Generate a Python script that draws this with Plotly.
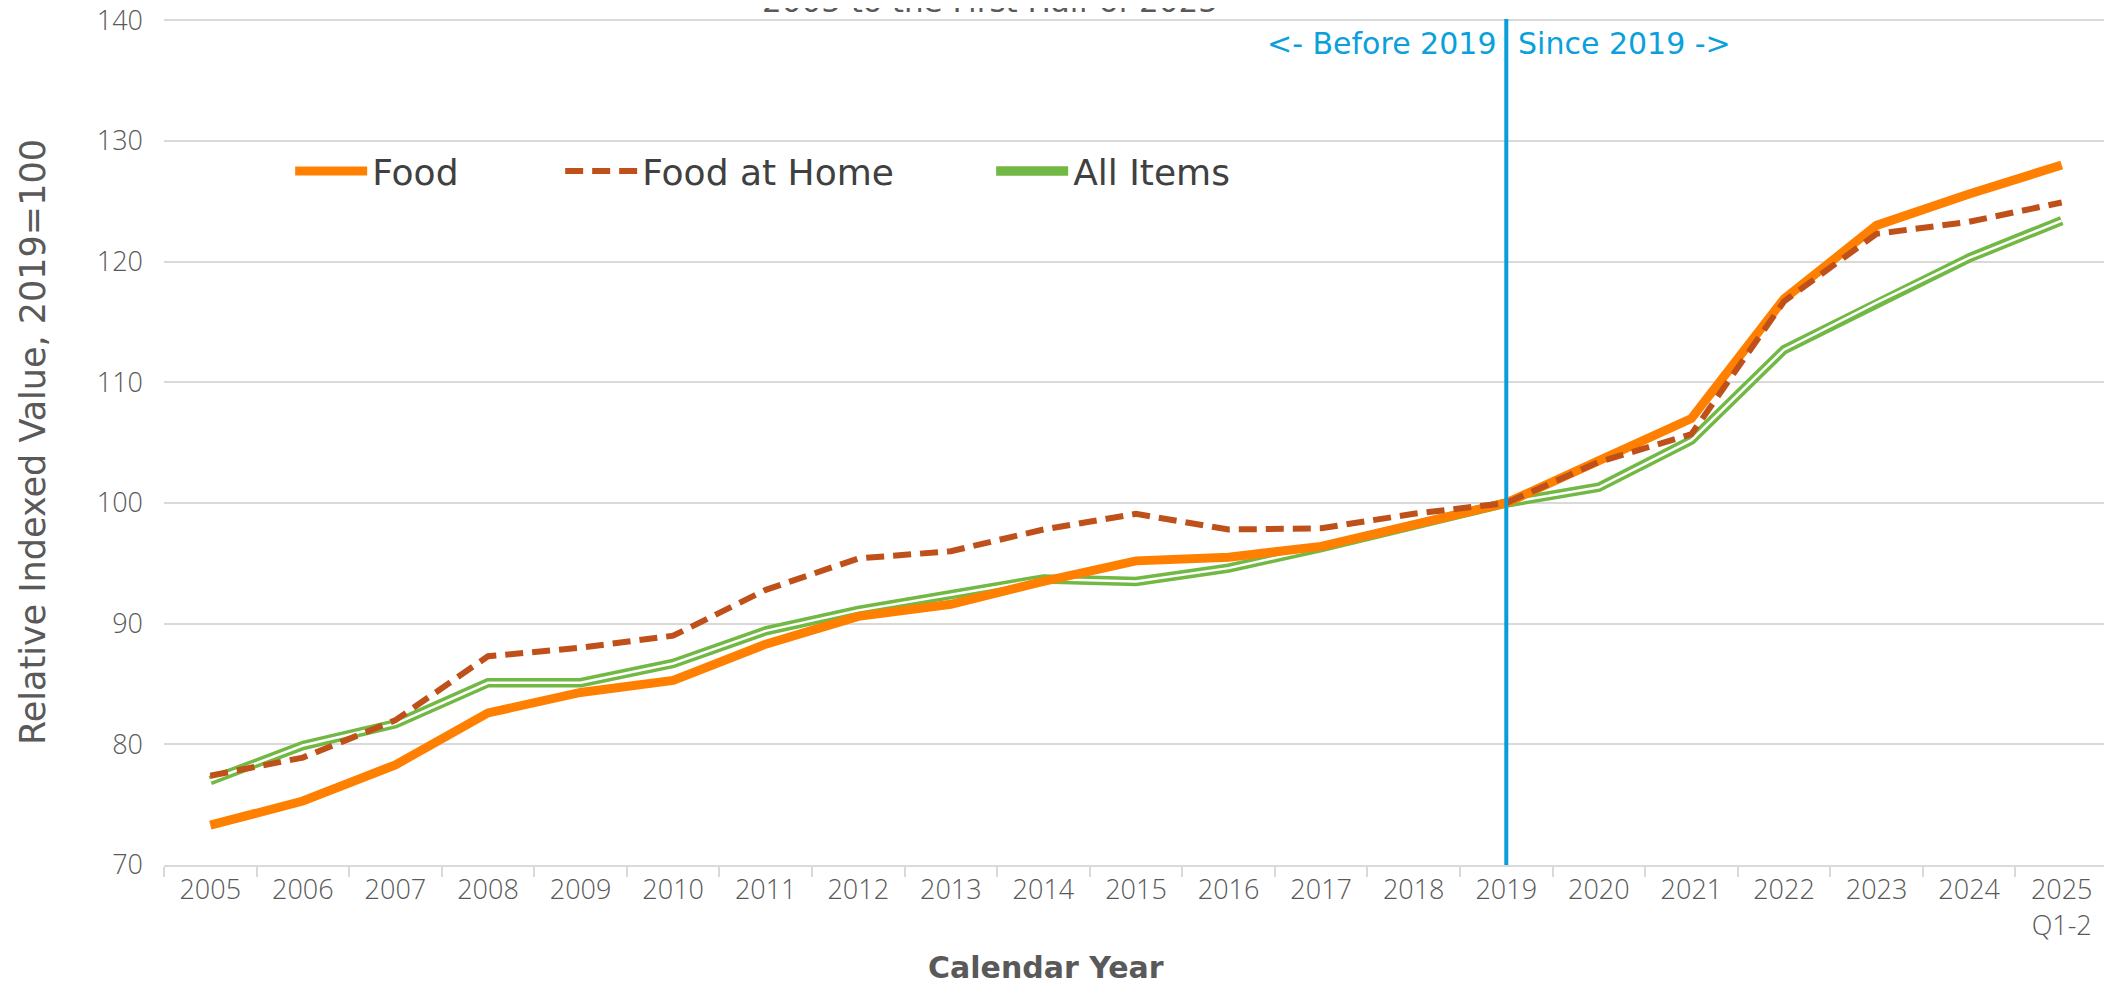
import plotly.graph_objects as go

years = ["2005", "2006", "2007", "2008", "2009", "2010", "2011", "2012", "2013", "2014",
         "2015", "2016", "2017", "2018", "2019", "2020", "2021", "2022", "2023", "2024",
         "2025<br>Q1-2"]

food = [73.3, 75.3, 78.3, 82.6, 84.3, 85.3, 88.3, 90.6, 91.6, 93.5,
        95.2, 95.5, 96.4, 98.2, 100.0, 103.5, 107.0, 116.9, 123.0, 125.6, 128.0]

food_at_home = [77.4, 78.9, 82.0, 87.3, 88.0, 89.0, 92.8, 95.4, 96.0, 97.8,
                99.1, 97.8, 97.9, 99.1, 100.0, 103.4, 105.7, 116.7, 122.3, 123.3, 124.9]

all_items = [77.0, 79.9, 81.7, 85.1, 85.1, 86.7, 89.4, 91.1, 92.4, 93.7,
             93.5, 94.6, 96.3, 98.2, 100.0, 101.3, 105.2, 112.7, 116.6, 120.3, 123.4]

y_ticks = [70, 80, 90, 100, 110, 120, 130, 140]
split_year = "2019"

TICK_FONT = "Open Sans"
TEXT_FONT = "DejaVu Sans"
GREY = "#595959"

# the page body has an 8px margin, so the figure sits 8px in from the window edge
L, T, R, B = 156, 11, 4, 124
W, H = 2104, 981
plot_w = W - L - R
plot_h = H - T - B

def px_x(page_x):
    return (page_x - 8 - L) / plot_w

def px_y(page_y):
    return 1 - (page_y - 8 - T) / plot_h

split_idx = years.index(split_year)

fig = go.Figure()

fig.add_trace(go.Scatter(x=years, y=all_items, mode="lines", name="All Items",
                         line=dict(color="#72b844", width=9.5), legend="legend3"))
fig.add_trace(go.Scatter(x=years, y=all_items, mode="lines", name="All Items",
                         line=dict(color="#ffffff", width=2.5), showlegend=False,
                         hoverinfo="skip"))
fig.add_trace(go.Scatter(x=years, y=food, mode="lines", name="Food",
                         line=dict(color="#ff8000", width=9), legend="legend"))
fig.add_trace(go.Scatter(x=years, y=food_at_home, mode="lines", name="Food at Home",
                         line=dict(color="#c0501a", width=6, dash="18px,9px"),
                         legend="legend2"))

fig.add_shape(type="line", xref="x", yref="paper", x0=split_idx, x1=split_idx, y0=0, y1=1,
              line=dict(color="#0a9ed9", width=4))

fig.add_annotation(x=split_idx, y=px_y(43), xref="x", yref="paper", text="<- Before 2019",
                   showarrow=False, xanchor="right", yanchor="middle", xshift=-8,
                   font=dict(family=TEXT_FONT, size=30, color="#0aa0dc"))
fig.add_annotation(x=split_idx, y=px_y(43), xref="x", yref="paper", text="Since 2019 ->",
                   showarrow=False, xanchor="left", yanchor="middle", xshift=10,
                   font=dict(family=TEXT_FONT, size=30, color="#0aa0dc"))

# chart title, cut off at the top edge as in the source image
fig.add_annotation(x=px_x(990), y=px_y(21), xref="paper", yref="paper",
                   text="2005 to the First Half of 2025", showarrow=False,
                   xanchor="center", yanchor="bottom",
                   font=dict(family=TEXT_FONT, size=31, color=GREY))

# x-axis title (sits left of the plot centre in the source)
fig.add_annotation(x=px_x(1046), y=px_y(968), xref="paper", yref="paper",
                   text="Calendar Year", showarrow=False,
                   xanchor="center", yanchor="middle",
                   font=dict(family=TEXT_FONT, size=30, color=GREY, weight="bold"))

legend_common = dict(orientation="h", yanchor="middle", y=px_y(171), xanchor="left",
                     bgcolor="rgba(0,0,0,0)", itemwidth=72,
                     font=dict(family=TEXT_FONT, size=36, color="#404040"))

fig.update_layout(
    width=W, height=H,
    margin=dict(l=L, r=R, t=T, b=B, autoexpand=False),
    paper_bgcolor="white", plot_bgcolor="white",
    font=dict(family=TEXT_FONT, color=GREY),
    legend=dict(x=px_x(296) - 0.003, **legend_common),
    legend2=dict(x=px_x(566) - 0.003, **legend_common),
    legend3=dict(x=px_x(997) - 0.003, **legend_common),
    xaxis=dict(
        type="category", range=[-0.5, len(years) - 0.5],
        tickson="boundaries", ticks="outside", ticklen=10, tickwidth=2,
        tickcolor="#d9d9d9", automargin=False,
        showline=True, linecolor="#d9d9d9", linewidth=2,
        showgrid=False, zeroline=False,
        tickfont=dict(family=TICK_FONT, size=27, color=GREY, weight=300),
    ),
    yaxis=dict(
        range=[70, 140.1], tickvals=y_ticks, automargin=False,
        showgrid=True, gridcolor="#d9d9d9", gridwidth=2,
        zeroline=False, showline=False, ticks="",
        ticklabelstandoff=20, ticklabeloverflow="allow",
        tickfont=dict(family=TICK_FONT, size=27, color=GREY, weight=300),
        title=dict(text="Relative Indexed Value, 2019=100", standoff=40,
                   font=dict(family=TEXT_FONT, size=35, color=GREY)),
    ),
)

fig.write_html("out.html")
